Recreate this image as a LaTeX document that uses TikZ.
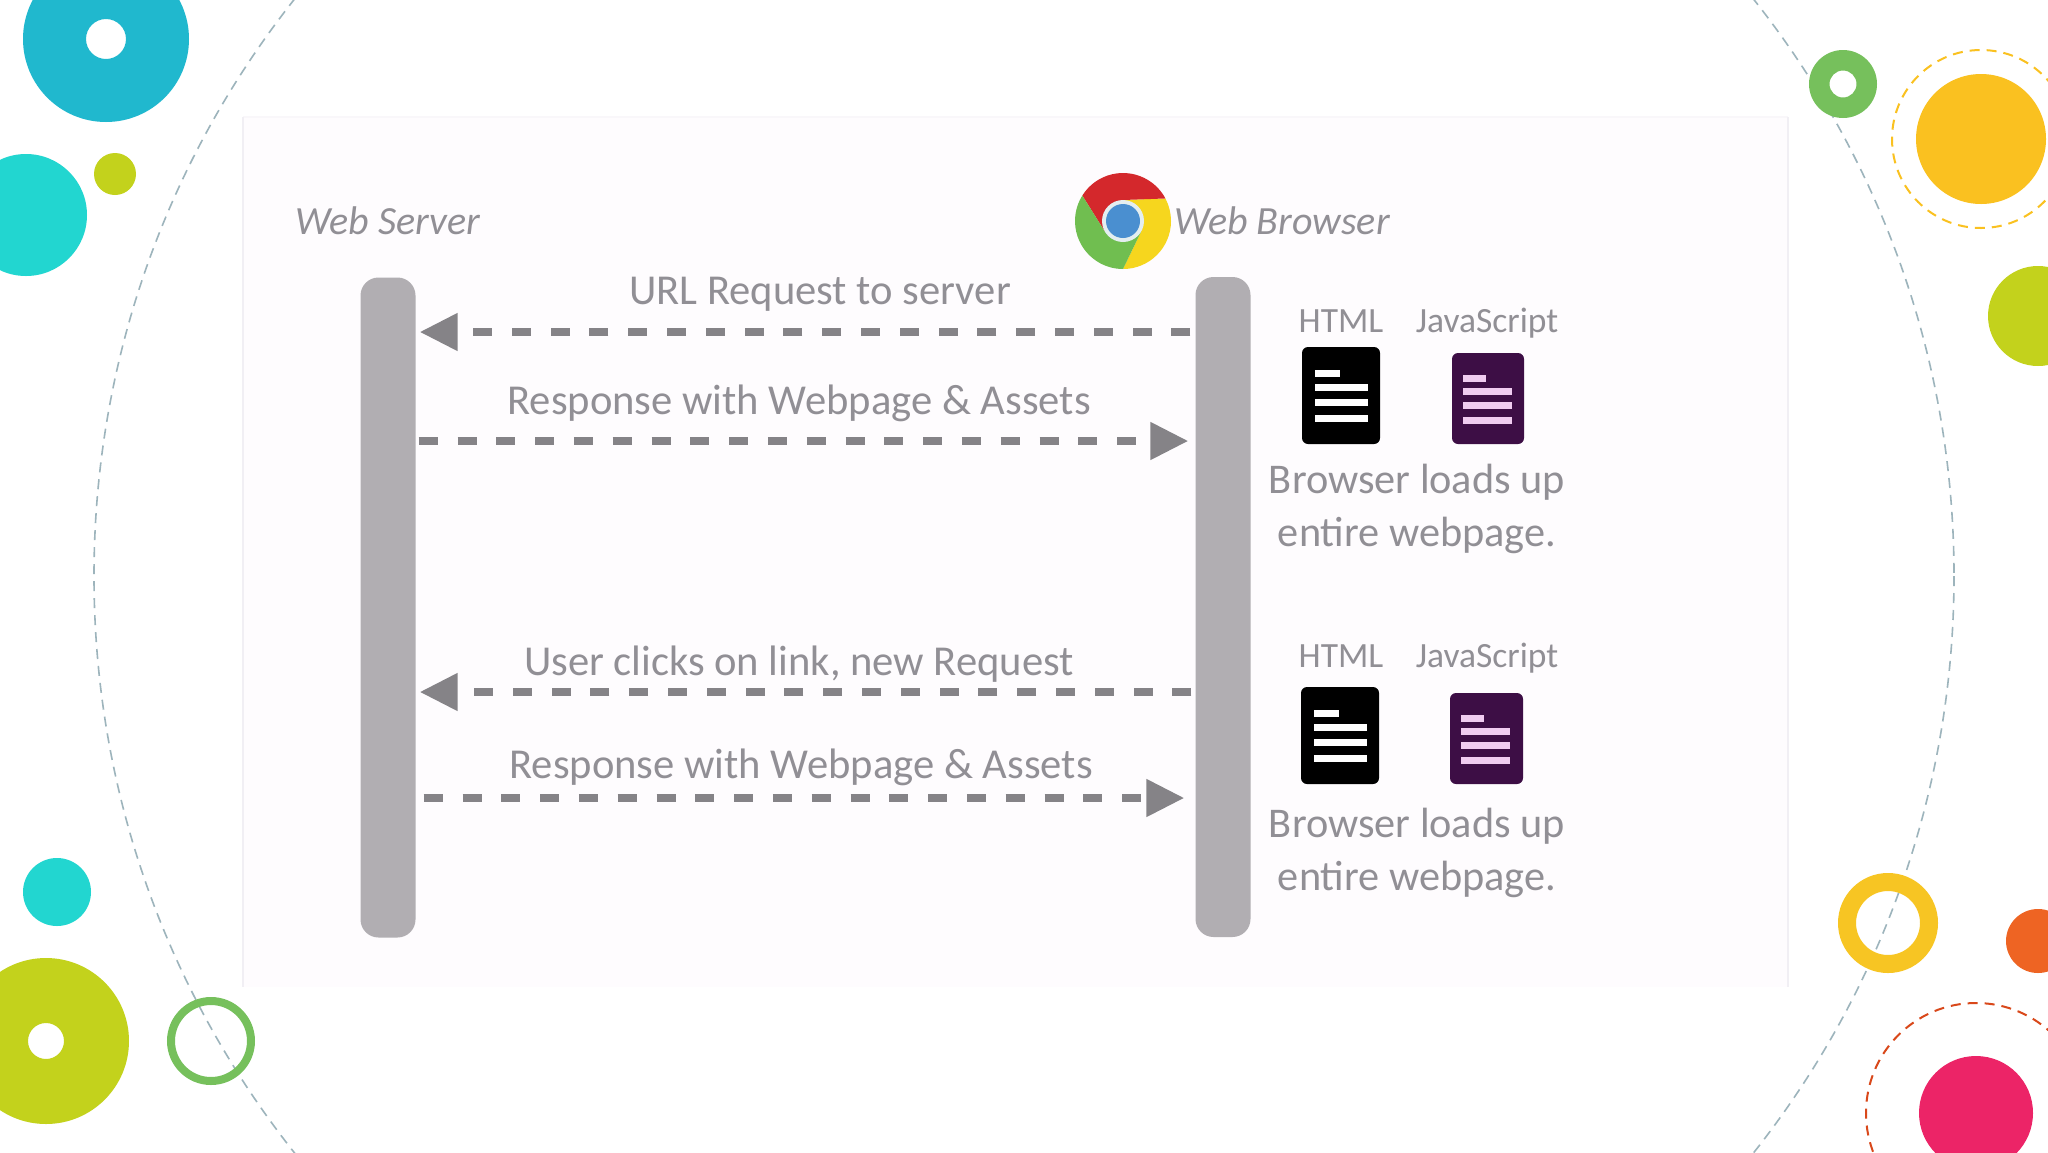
\documentclass[tikz,border=0pt]{standalone}
\usepackage{xcolor}
\usepackage{fontspec}
\setmainfont{Carlito}
\usetikzlibrary{arrows.meta}

\definecolor{panelbg}{HTML}{FEFCFE}
\definecolor{paneledge}{HTML}{F1EFF4}
\definecolor{paneltop}{HTML}{F9F7FA}
\definecolor{barcol}{HTML}{B1AEB2}
\definecolor{msgcol}{HTML}{858387}
\definecolor{txtcol}{HTML}{918F95}
\definecolor{ringline}{HTML}{9DB4BC}
\definecolor{teal}{HTML}{20B8CE}
\definecolor{aqua}{HTML}{22D6D0}
\definecolor{lime}{HTML}{C3D21C}
\definecolor{leaf}{HTML}{76C05C}
\definecolor{sun}{HTML}{FAC120}
\definecolor{sunring}{HTML}{F7C523}
\definecolor{tangerine}{HTML}{EE6423}
\definecolor{rose}{HTML}{EC2467}
\definecolor{rust}{HTML}{D9481A}
\definecolor{jspurple}{HTML}{3D0E45}
\definecolor{jsline}{HTML}{F0CCF0}
\definecolor{logored}{HTML}{D4282C}
\definecolor{logogreen}{HTML}{70BE50}
\definecolor{logoyellow}{HTML}{F6D61E}
\definecolor{logoblue}{HTML}{4A8FD0}
\definecolor{logoring}{HTML}{E4EEF0}

\tikzset{
  barnode/.style={draw=none,fill=barcol,rounded corners=18pt,inner sep=0pt,minimum width=55pt,minimum height=660pt},
  msgline/.style={draw=msgcol,line width=8pt,dash pattern=on 19pt off 19.8pt,-{Triangle[length=38pt,width=36pt]}},
  msglabel/.style={text=txtcol,inner sep=0pt,font=\fontsize{42.6}{48}\selectfont},
  endlabel/.style={text=txtcol,inner sep=0pt,font=\itshape\fontsize{40}{50}\selectfont},
  doclabel/.style={text=txtcol,inner sep=0pt,anchor=base,font=\fontsize{35.5}{40}\selectfont},
  loadlabel/.style={text=txtcol,inner sep=0pt,font=\fontsize{42.3}{53.5}\selectfont},
  ringdash/.style={line width=2pt,dash pattern=on 10pt off 7pt},
  htmlrow/.style={fill=white},
  jsrow/.style={fill=jsline}
}

\begin{document}
\begin{tikzpicture}[x=1pt,y=-1pt]
    \useasboundingbox (0,0) rectangle (2048,1152);
    \clip (0,0) rectangle (2048,1152);
    \fill[white] (0,0) rectangle (2048,1152);

    % Big dashed circle behind everything
    \draw[ringline,ringdash,line width=1.6pt] (1024,576) circle[radius=930];

    % Left decoration
    \fill[teal,even odd rule] (106,39) circle[radius=83] (106,39) circle[radius=20];
    \fill[aqua] (26,215) circle[radius=61];
    \fill[lime] (115,174) circle[radius=21];
    \fill[aqua] (57,892) circle[radius=34];
    \fill[lime,even odd rule] (46,1041) circle[radius=83] (46,1041) circle[radius=18];
    \draw[leaf,line width=8pt] (211,1041) circle[radius=40];

    % Right decoration
    \fill[leaf,even odd rule] (1843,84) circle[radius=34] (1843,84) circle[radius=13.5];
    \fill[sun] (1981,139) circle[radius=65];
    \draw[sun,ringdash] (1981,139) circle[radius=89];
    \fill[lime] (2038,316) circle[radius=50];
    \draw[sunring,line width=18pt] (1888,923) circle[radius=41];
    \fill[tangerine] (2038,941) circle[radius=32];
    \fill[rose] (1976,1113) circle[radius=57];
    \draw[rust,ringdash] (1976,1113) circle[radius=110];

    % Panel of the slide picture
    \fill[panelbg] (243,117) rectangle (1788,987);
    \draw[paneltop,line width=2pt] (243,117) -- (1788,117);
    \draw[paneledge,line width=2pt] (243,117) -- (243,987);
    \draw[paneledge,line width=2pt] (1788,117) -- (1788,987);

    % Web server and web browser bars
    \node[barnode] (srvbar) at (388,607.5) {};
    \node[barnode] (brwbar) at (1223,607) {};
    \node[endlabel] (srvname) at (388,221) {Web Server};
    \node[endlabel] (brwname) at (1282,221) {Web Browser};

    % Browser logo
    \begin{scope}[shift={(1123,221)}]
        \fill[logoyellow] (270:48pt) arc[start angle=270,end angle=388,radius=48pt] -- (90:21pt) -- (330:21pt) -- cycle;
        \fill[logored] (148:48pt) arc[start angle=148,end angle=28,radius=48pt] -- (90:21pt) -- (210:21pt) -- cycle;
        \fill[logogreen] (148:48pt) arc[start angle=148,end angle=270,radius=48pt] -- (330:21pt) -- (210:21pt) -- cycle;
        \fill[logoring] (0pt,0pt) circle[radius=21pt];
        \fill[logoblue] (0pt,0pt) circle[radius=17pt];
    \end{scope}

    % Messages
    \coordinate (rowa) at (0,332);
    \coordinate (rowb) at (0,441);
    \coordinate (rowc) at (0,692);
    \coordinate (rowd) at (0,798);
    \draw[msgline,shorten >=4pt,shorten <=5pt] (brwbar.west |- rowa) -- (srvbar.east |- rowa);
    \draw[msgline,shorten >=7pt,shorten <=3pt] (srvbar.east |- rowb) -- (brwbar.west |- rowb);
    \draw[msgline,shorten >=4pt,shorten <=4pt] (brwbar.west |- rowc) -- (srvbar.east |- rowc);
    \draw[msgline,shorten >=11pt,shorten <=8pt] (srvbar.east |- rowd) -- (brwbar.west |- rowd);
    \node[msglabel] (urlreq) at (820,294) {URL Request to server};
    \node[msglabel] (respa) at (799,403) {Response with Webpage \& Assets};
    \node[msglabel] (userreq) at (799,664) {User clicks on link, new Request};
    \node[msglabel] (respb) at (801,767) {Response with Webpage \& Assets};

    % First page load
    \node[doclabel] (htmla) at (1341,332) {HTML};
    \node[doclabel] (jsa) at (1487,332) {JavaScript};
    \fill[black,rounded corners=6pt] (1302,347) rectangle (1380,444);
    \fill[htmlrow] (1315,369.5) rectangle (1340,376.5);
    \fill[htmlrow] (1315,383.5) rectangle (1368,390.5);
    \fill[htmlrow] (1315,398.5) rectangle (1368,405.5);
    \fill[htmlrow] (1315,414.5) rectangle (1368,421.5);
    \fill[jspurple,rounded corners=6pt] (1452,353) rectangle (1524,444);
    \fill[jsrow] (1463,374.5) rectangle (1486,381.5);
    \fill[jsrow] (1463,387.5) rectangle (1512,394.5);
    \fill[jsrow] (1463,401.5) rectangle (1512,408.5);
    \fill[jsrow] (1463,416.5) rectangle (1512,423.5);
    \node[loadlabel,align=center] (loada) at (1417,509) {Browser loads up\\entire webpage.};

    % Second page load
    \node[doclabel] (htmlb) at (1341,667) {HTML};
    \node[doclabel] (jsb) at (1487,667) {JavaScript};
    \fill[black,rounded corners=6pt] (1301,687) rectangle (1379,784);
    \fill[htmlrow] (1314,709.5) rectangle (1339,716.5);
    \fill[htmlrow] (1314,723.5) rectangle (1367,730.5);
    \fill[htmlrow] (1314,738.5) rectangle (1367,745.5);
    \fill[htmlrow] (1314,754.5) rectangle (1367,761.5);
    \fill[jspurple,rounded corners=6pt] (1450,693) rectangle (1523,784);
    \fill[jsrow] (1461,714.5) rectangle (1484,721.5);
    \fill[jsrow] (1461,727.5) rectangle (1510,734.5);
    \fill[jsrow] (1461,741.5) rectangle (1510,748.5);
    \fill[jsrow] (1461,756.5) rectangle (1510,763.5);
    \node[loadlabel,align=center] (loadb) at (1417,853) {Browser loads up\\entire webpage.};
\end{tikzpicture}
\end{document}
